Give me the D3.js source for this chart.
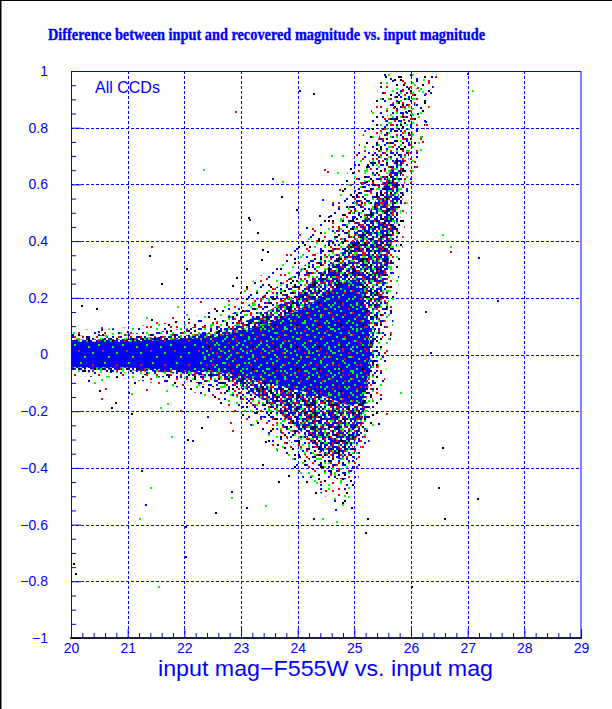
<!DOCTYPE html>
<html><head><meta charset="utf-8">
<script src="https://cdn.jsdelivr.net/npm/d3@7"></script>
<style>body{margin:0;background:#fff}svg{display:block}</style>
</head><body>
<script>
// ---------- data ----------
const xMajor = [20,21,22,23,24,25,26,27,28,29];
const yMajor = [-1,-0.8,-0.6,-0.4,-0.2,0,0.2,0.4,0.6,0.8,1];
const yLabels = ["\u22121","\u22120.8","\u22120.6","\u22120.4","\u22120.2","0","0.2","0.4","0.6","0.8","1"];
const titleText = "Difference between input and recovered magnitude vs. input magnitude";
const xTitle = "input mag\u2212F555W vs. input mag";
const panelLabel = "All CCDs";

// envelopes of the point cloud (mag, diff)
const coreMag  = [20,21,22,22.5,23,23.5,24,24.5,24.8,25.05,25.15,25.25,25.28,25.22,25.12,24.9,24.5,24,23.5,23,22.5,22,21,20];
const coreDiff = [0.045,0.045,0.055,0.06,0.08,0.11,0.155,0.21,0.25,0.26,0.2,0.1,0.0,-0.1,-0.17,-0.18,-0.15,-0.125,-0.1,-0.075,-0.06,-0.056,-0.046,-0.045];
const denseMag  = [20,21,22,22.5,23,23.5,24,24.5,24.8,25,25.2,25.4,25.6,25.75,25.85,25.78,25.68,25.58,25.47,25.36,25.31,25.26,25.18,25.05,24.92,24.75,24.5,24.2,24,23.5,23,22.5,22,21,20];
const denseDiff = [0.052,0.055,0.068,0.078,0.11,0.155,0.215,0.3,0.36,0.42,0.48,0.55,0.63,0.7,0.68,0.55,0.42,0.3,0.18,0.08,0,-0.1,-0.2,-0.29,-0.35,-0.37,-0.35,-0.3,-0.26,-0.175,-0.11,-0.078,-0.068,-0.055,-0.052];
const outerMag  = [20,21,22,22.5,23,23.5,24,24.5,24.8,25,25.2,25.4,25.6,25.75,26.1,26.05,25.92,25.82,25.73,25.62,25.5,25.4,25.3,25.18,25.05,24.9,24.7,24.4,24.1,23.5,23,22.5,22,21,20];
const outerDiff = [0.065,0.072,0.09,0.11,0.16,0.22,0.29,0.39,0.48,0.56,0.65,0.75,0.85,0.93,0.95,0.8,0.65,0.5,0.35,0.2,0.05,-0.08,-0.18,-0.28,-0.37,-0.44,-0.44,-0.41,-0.35,-0.24,-0.16,-0.115,-0.088,-0.066,-0.062];
const fringeMag  = [20,21,22,22.5,23,23.5,24,24.5,24.8,25,25.2,25.4,25.5,26.45,26.3,26.15,25.95,25.85,25.75,25.62,25.5,25.35,25.2,25.05,24.85,24.6,24.3,24,23.5,23,22.5,22,21,20];
const fringeDiff = [0.085,0.095,0.12,0.16,0.23,0.3,0.39,0.5,0.6,0.7,0.8,0.92,0.99,0.99,0.85,0.72,0.55,0.38,0.2,0.02,-0.15,-0.25,-0.35,-0.45,-0.53,-0.52,-0.47,-0.42,-0.31,-0.22,-0.16,-0.12,-0.085,-0.075];

// isolated points outside the dense cloud
const blackPts = [[20.05,-0.74],[20.09,-0.775],[20.19,0.17],[20.46,0.16],[20.51,-0.13],[20.72,-0.19],[21.08,-0.21],[21.13,-0.1],[21.39,0.347],[21.43,0.12],[21.85,0.115],[22.06,-0.3],[22.31,-0.26],[22.56,-0.56],[22.86,0.24],[22.93,0.27],[23.14,0.48],[23.3,0.43],[23.39,0.37],[23.48,0.36],[23.37,0.335],[23.72,0.556],[23.98,0.51],[24.22,0.38],[24.45,0.4],[24.4,0.49],[24.58,0.49],[24.62,0.47],[24.92,0.5],[25.05,0.555],[25.14,0.535],[25.22,0.61],[25.24,0.67],[23.3,-0.24],[23.45,-0.31],[23.65,-0.32],[23.78,-0.33],[24.04,-0.36],[24.13,-0.39],[24.16,-0.45],[23.85,-0.43],[23.67,-0.45],[24.32,-0.49],[25.24,-0.58],[23.39,-0.39],[25.2,-0.63],[26.02,-0.82],[26.6,-0.58],[26.5,-0.47],[27.18,-0.51],[25.44,-0.245],[26.56,-0.33],[25.56,0.98],[25.72,0.97],[25.82,0.97],[25.88,0.95],[25.5,0.9],[25.79,0.89],[22.04,0.3],[21.6,0.25]];
const redPts = [[20.54,0.093],[21.52,0.11],[21.8,0.13],[22.3,0.185],[21.43,0.38],[22.91,0.855],[20.62,-0.12],[20.55,-0.157],[21.34,-0.125],[21.55,-0.1],[21.95,-0.2],[22.82,-0.24],[24.04,0.42],[24.34,0.4],[24.48,0.65],[24.53,0.644],[24.75,0.58],[24.4,-0.345],[24.41,-0.45],[24.5,-0.48],[22.86,-0.27],[25.58,-0.21],[26.7,0.36],[25.7,0.87],[26.12,0.94],[26.27,0.92],[26.44,0.98],[25.88,0.827],[26.29,0.81],[26.18,0.76],[26.21,0.75],[26.07,0.68],[26.1,0.66]];
const greenPts = [[20.06,0.075],[20.62,0.065],[20.74,0.072],[21.34,0.13],[21.88,0.168],[22.05,0.14],[23.23,0.18],[22.35,0.65],[23.74,0.61],[24.6,0.7],[24.8,0.7],[24.71,0.64],[20.42,-0.1],[20.55,-0.09],[21.08,-0.14],[21.59,-0.19],[21.71,-0.175],[21.69,-0.13],[21.78,-0.29],[24.25,-0.43],[24.55,-0.46],[24.8,-0.53],[24.45,-0.58],[24.83,-0.5],[24.9,-0.47],[21.41,-0.47],[21.22,-0.58],[21.56,-0.82],[22.84,-0.506],[23.45,-0.535],[24.69,-0.59],[25.82,-0.135],[26.57,0.42],[26.7,0.38],[27.09,0.93],[26.07,0.95],[26.21,0.925],[26.23,0.97],[26.18,0.72],[26.02,0.85]];
const bluePts = [[20.32,-0.093],[20.8,-0.17],[21.02,-0.135],[21.32,-0.53],[21.25,-0.41],[22.03,-0.714],[22.03,-0.61],[22.84,-0.485],[23.1,-0.54],[24.29,-0.58],[24.68,-0.55],[24.96,-0.54],[22.42,-0.22],[22.15,-0.305],[23.16,0.474],[23.57,0.62],[24.16,0.447],[24.45,0.545],[24.04,0.93],[24.29,0.92],[27.0,0.99],[27.2,0.34],[27.53,0.19],[26.26,0.15],[26.35,0.005],[26.37,0.98],[25.91,0.855],[26.12,0.85],[26.17,0.87],[26.27,0.82],[20.5,0.08],[20.55,0.085],[21.0,0.08]];

// ---------- styles ----------
const BLUE="#0000ff", RED="#ff0000", GREEN="#00ff00", BLACK="#000000";
const colorOf = {b:BLUE, r:RED, g:GREEN, k:BLACK};
// textures (2px cells) used to render the dense cloud; two tiles of different size per tier
const texL = ["............","....g.......","..........r.","............",".g..........","........g...","............","...r........","..........g.","............","......g.....","............"];
const texS = ["..g......r.",".....g.....","r.........g","...g...r...","......g....",".g.........","....r....g.","........g..","..g..k.....","......r...g","g...g......"];
const texD1 = ["bb.b.bg.b.b.",".b.rb..bb.bk","b.bb.b.g.b..","g.b..bb.b.rb",".b.kb.b..bb.","bb..b.gb.b.b",".rb.b..b.bg.","b..bb.b.r.bb",".bg..b.bb.b.","b.b.rb..b.gb","kb.b..bgb..b",".b.gb.b..rb."];
const texD2 = ["..r....g....k","g.....b...r..","...k.....g...",".r.....r....b","....g.......g","k.......k.r..","..g..r.......","......g...k..",".b..........r","r....k..g....","...g.....r...","......r.....g",".k..g....b..."];
const texO1 = ["b....r..b...","...g......k.",".b....b.....","......g..r..","r..b.......b",".....k..b...","..g.......g.","b.....r.....","....b....b..",".k.......r..","......b.g...","..r.b......."];
const texO2 = ["......k....","..b........","........g..","....r......","k.........b","......b....","..g........",".........r.","...k.......","......g....","b.........."];
const texF1 = ["b............","......r......","...........g.","...k.........","........b....",".............",".g....k......","..........r..","....b........",".............","r.......g....","..........b..","....k........"];
const texF2 = ["............","..g.........","........k...","............","....b.......","..........r.","............",".r..........","......g.....","............","...........b","...k........"];

const W=612, H=709;
const svg = d3.select("body").append("svg").attr("width",W).attr("height",H);
svg.append("rect").attr("width",W).attr("height",H).attr("fill","#fff");

const x = d3.scaleLinear().domain([20,29]).range([71,581]);
const y = d3.scaleLinear().domain([-1,1]).range([638,71]);

const defs = svg.append("defs");
defs.append("clipPath").attr("id","plotClip").append("rect")
  .attr("x",71).attr("y",71).attr("width",510).attr("height",567);
defs.append("clipPath").attr("id","rightClip").append("rect")
  .attr("x",x(22.3)).attr("y",71).attr("width",x(29)-x(22.3)).attr("height",567);
function makeTex(id, rows){
  const p = defs.append("pattern").attr("id",id).attr("patternUnits","userSpaceOnUse")
    .attr("width",rows[0].length*2).attr("height",rows.length*2);
  rows.forEach((row,j)=>{
    row.split("").forEach((c,i)=>{
      if(c!=="." && colorOf[c]) p.append("rect").attr("x",i*2).attr("y",j*2).attr("width",2).attr("height",2).attr("fill",colorOf[c]);
    });
  });
}
[["tL",texL],["tS",texS],["tD1",texD1],["tD2",texD2],["tO1",texO1],["tO2",texO2],["tF1",texF1],["tF2",texF2]].forEach(([id,t])=>makeTex(id,t));

// grid
const grid = svg.append("g").attr("stroke",BLUE).attr("stroke-width",1).attr("stroke-dasharray","3,2");
xMajor.slice(1,-1).forEach(v=>grid.append("line").attr("x1",Math.round(x(v))+0.5).attr("x2",Math.round(x(v))+0.5).attr("y1",y(1)).attr("y2",y(-1)));
yMajor.slice(1,-1).forEach(v=>grid.append("line").attr("y1",Math.round(y(v))+0.5).attr("y2",Math.round(y(v))+0.5).attr("x1",x(20)).attr("x2",x(29)));

// point cloud
const cloud = svg.append("g").attr("clip-path","url(#plotClip)");
const poly = (ms,ds)=> d3.line()(ms.map((m,i)=>[x(m),y(ds[i])])) + "Z";
const pF = poly(fringeMag,fringeDiff), pO = poly(outerMag,outerDiff), pD = poly(denseMag,denseDiff), pC = poly(coreMag,coreDiff);
cloud.append("path").attr("d",pF).attr("fill","url(#tF1)");
cloud.append("path").attr("d",pF).attr("fill","url(#tF2)");
cloud.append("path").attr("d",pO).attr("fill","url(#tO1)");
cloud.append("path").attr("d",pO).attr("fill","url(#tO2)");
cloud.append("path").attr("d",pD).attr("fill","url(#tD1)");
cloud.append("path").attr("d",pD).attr("fill","url(#tD2)");
cloud.append("path").attr("d",pC).attr("fill",BLUE);
cloud.append("path").attr("d",pC).attr("fill","url(#tL)");
cloud.append("g").attr("clip-path","url(#rightClip)").append("path").attr("d",pC).attr("fill","url(#tS)");

[[blackPts,BLACK],[redPts,RED],[greenPts,GREEN],[bluePts,BLUE]].forEach(([pts,col])=>{
  cloud.append("g").selectAll("rect").data(pts).join("rect")
    .attr("x",d=>Math.round(x(d[0]))-1).attr("y",d=>Math.round(y(d[1]))-1)
    .attr("width",2).attr("height",2).attr("fill",col);
});

// axes
const font = "'Liberation Sans', Arial, sans-serif";
const xMinor = d3.range(20,29.001,0.2).filter(v=>Math.abs(v-Math.round(v))>1e-6);
const yMinor = d3.range(-1,1.0001,0.05).filter(v=>Math.abs(v*5-Math.round(v*5))>1e-6);

const gx = svg.append("g").attr("transform",`translate(0,${y(-1)})`);
gx.call(d3.axisBottom(x).tickValues(xMajor).tickSize(-9).tickPadding(5).tickFormat(d3.format("d")));
const gxm = svg.append("g").attr("transform",`translate(0,${y(-1)})`);
gxm.call(d3.axisBottom(x).tickValues(xMinor).tickSize(-5).tickFormat(""));
const gy = svg.append("g").attr("transform",`translate(${x(20)},0)`);
gy.call(d3.axisLeft(y).tickValues(yMajor).tickSize(-10).tickPadding(23).tickFormat((d,i)=>yLabels[i]));
const gym = svg.append("g").attr("transform",`translate(${x(20)},0)`);
gym.call(d3.axisLeft(y).tickValues(yMinor).tickSize(-5).tickFormat(""));
[gx,gxm,gy,gym].forEach(g=>{
  g.select(".domain").remove();
  g.selectAll(".tick line").attr("stroke",BLUE);
  g.selectAll("text").attr("fill",BLUE).style("font-family",font).style("font-size","14px");
});

// frame
svg.append("rect").attr("x",71.5).attr("y",71.5).attr("width",509.5).attr("height",566.5)
  .attr("fill","none").attr("stroke",BLUE).attr("stroke-width",1);
svg.append("line").attr("x1",70).attr("x2",582).attr("y1",638).attr("y2",638).attr("stroke",BLACK).attr("stroke-width",1.5);

// outer border (left and top)
svg.append("line").attr("x1",0.75).attr("x2",0.75).attr("y1",0).attr("y2",H).attr("stroke",BLACK).attr("stroke-width",1.5);
svg.append("line").attr("x1",0).attr("x2",W).attr("y1",0.5).attr("y2",0.5).attr("stroke",BLACK).attr("stroke-width",1);

// texts
svg.append("text").attr("x",266.5).attr("y",40).attr("text-anchor","middle")
  .attr("textLength",437).attr("lengthAdjust","spacingAndGlyphs")
  .style("font-family","'Liberation Serif','Times New Roman',serif").style("font-weight","bold").style("font-size","16.5px")
  .attr("fill",BLUE).attr("stroke",BLUE).attr("stroke-width",0.35).text(titleText);
svg.append("text").attr("x",325.5).attr("y",676).attr("text-anchor","middle")
  .attr("textLength",335).attr("lengthAdjust","spacingAndGlyphs")
  .style("font-family",font).style("font-size","22px").attr("fill",BLUE).text(xTitle);
svg.append("text").attr("x",95).attr("y",93)
  .style("font-family",font).style("font-size","16px").attr("fill",BLUE).text(panelLabel);
</script>
</body></html>
